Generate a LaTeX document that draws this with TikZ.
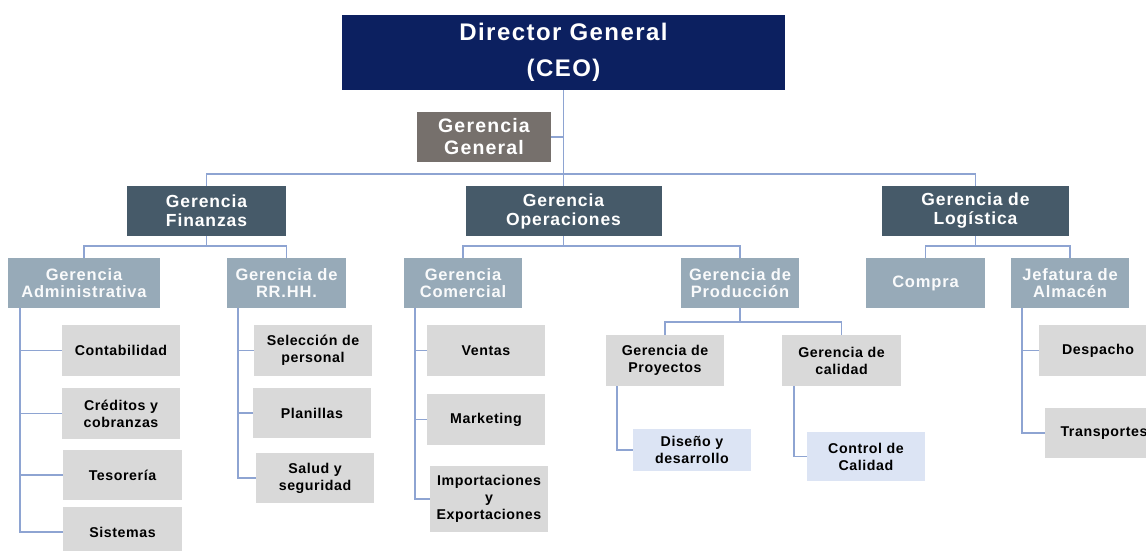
\documentclass[tikz,border=0pt]{standalone}
\usepackage{fontspec}
\setmainfont{Liberation Sans}
\newfontfamily\spthree[LetterSpace=4]{Liberation Sans}
\newfontfamily\spfour[LetterSpace=5]{Liberation Sans}
\newfontfamily\spsix[LetterSpace=6]{Liberation Sans}
\definecolor{ceoc}{RGB}{12,32,96}
\definecolor{ggc}{RGB}{118,112,108}
\definecolor{l1c}{RGB}{70,90,105}
\definecolor{l2c}{RGB}{151,170,184}
\definecolor{l3c}{RGB}{217,217,217}
\definecolor{l4c}{RGB}{220,228,244}
\definecolor{linec}{RGB}{142,164,210}
\begin{document}
\begin{tikzpicture}[x=1pt,y=-1pt,
  bx/.style={inner sep=0pt,align=center,font=\bfseries},
  ceobox/.style={bx,fill=ceoc,text=white,minimum width=443,minimum height=75,font=\spsix\bfseries\fontsize{24}{36}\selectfont},
  ggbox/.style={bx,fill=ggc,text=white,minimum width=134,minimum height=50,font=\spsix\bfseries\fontsize{19.5}{22}\selectfont},
  lonebox/.style={bx,fill=l1c,text=white,minimum height=50,font=\spfour\bfseries\fontsize{17.5}{19}\selectfont},
  ltwobox/.style={bx,fill=l2c,text=white!94!l2c,minimum width=118,minimum height=50,font=\spfour\bfseries\fontsize{16.5}{17}\selectfont},
  lthreebox/.style={bx,fill=l3c,text=black,minimum width=118,minimum height=51,font=\spthree\bfseries\fontsize{14.2}{17}\selectfont},
  lfourbox/.style={lthreebox,fill=l4c},
  conn/.style={draw=linec,line width=1.9pt}]
\useasboundingbox (0,0) rectangle (1146,550);
\begin{scope}
\clip (0,0) rectangle (1146,550);
% top
\node[ceobox] (ceo) at (563.5,52.5) {Director General\\(CEO)};
\node[ggbox] (gg) at (484,137) {Gerencia\\General};
% level 1
\node[lonebox,minimum width=159] (fin) at (206.5,211) {Gerencia\\Finanzas};
\node[lonebox,minimum width=196] (ope) at (563.5,211) {Gerencia\\Operaciones};
\node[lonebox,minimum width=187] (log) at (975.5,211) {Gerencia de\\Logística};
% level 2
\node[ltwobox,minimum width=152] (adm) at (84,283) {Gerencia\\Administrativa};
\node[ltwobox,minimum width=119] (rrhh) at (286.5,283) {Gerencia de\\RR.HH.};
\node[ltwobox] (com) at (463,283) {Gerencia\\Comercial};
\node[ltwobox] (pro) at (740,283) {Gerencia de\\Producción};
\node[ltwobox,minimum width=119] (compra) at (925.5,283) {Compra};
\node[ltwobox] (jef) at (1070,283) {Jefatura de\\Almacén};
% level 3
\node[lthreebox] (conta) at (121,350.5) {Contabilidad};
\node[lthreebox] (cred) at (121,413.5) {Créditos y\\cobranzas};
\node[lthreebox,minimum width=119,minimum height=50] (teso) at (122.5,475) {Tesorería};
\node[lthreebox,minimum width=119,minimum height=50] (sist) at (122.5,532) {Sistemas};
\node[lthreebox] (sel) at (313,350.5) {Selección de\\personal};
\node[lthreebox,minimum height=50] (plan) at (312,413) {Planillas};
\node[lthreebox,minimum height=50] (salud) at (315,478) {Salud y\\seguridad};
\node[lthreebox] (ventas) at (486,350.5) {Ventas};
\node[lthreebox] (mkt) at (486,419.5) {Marketing};
\node[lthreebox,minimum height=66] (imp) at (489,499) {Importaciones\\y\\Exportaciones};
\node[lthreebox] (proy) at (665,360.5) {Gerencia de\\Proyectos};
\node[lthreebox,minimum width=119] (cal) at (841.5,360.5) {Gerencia de\\calidad};
\node[lfourbox,minimum height=42] (dis) at (692,450) {Diseño y\\desarrollo};
\node[lfourbox,minimum height=49] (ctrl) at (866,456.5) {Control de\\Calidad};
\node[lthreebox] (desp) at (1098,350.5) {Despacho};
\node[lthreebox,minimum height=50] (trans) at (1104,433) {Transportes};
% connectors top
\coordinate (b1) at (563.5,174);
\draw[conn] (ceo.south) -- (ope.north);
\draw[conn] (gg.east) -- (gg.east -| ceo.south);
\draw[conn] (fin.north) |- (b1) -| (log.north);
% finanzas
\coordinate (bf) at (206.5,246);
\draw[conn] (fin.south) -- (bf);
\draw[conn] (adm.north) |- (bf) -| (rrhh.north);
% operaciones
\coordinate (bo) at (563.5,246);
\draw[conn] (ope.south) -- (bo);
\draw[conn] (com.north) |- (bo) -| (pro.north);
% logistica
\coordinate (bl) at (975.5,246);
\draw[conn] (log.south) -- (bl);
\draw[conn] (compra.north) |- (bl) -| (jef.north);
% produccion
\coordinate (bp) at (740,322);
\draw[conn] (pro.south) -- (bp);
\draw[conn] (proy.north) |- (bp) -| (cal.north);
% administrativa
\coordinate (a0) at (20,308);
\draw[conn] (a0) |- (sist.west);
\draw[conn] (a0 |- conta.west) -- (conta.west);
\draw[conn] (a0 |- cred.west) -- (cred.west);
\draw[conn] (a0 |- teso.west) -- (teso.west);
% rrhh
\coordinate (r0) at (238,308);
\draw[conn] (r0) |- (salud.west);
\draw[conn] (r0 |- sel.west) -- (sel.west);
\draw[conn] (r0 |- plan.west) -- (plan.west);
% comercial
\coordinate (c0) at (415,308);
\draw[conn] (c0) |- (imp.west);
\draw[conn] (c0 |- ventas.west) -- (ventas.west);
\draw[conn] (c0 |- mkt.west) -- (mkt.west);
% proyectos / calidad
\coordinate (p0) at (617,386);
\draw[conn] (p0) |- (dis.west);
\coordinate (q0) at (794,386);
\draw[conn] (q0) |- (ctrl.west);
% jefatura
\coordinate (j0) at (1022,308);
\draw[conn] (j0) |- (trans.west);
\draw[conn] (j0 |- desp.west) -- (desp.west);
\end{scope}
\end{tikzpicture}
\end{document}
